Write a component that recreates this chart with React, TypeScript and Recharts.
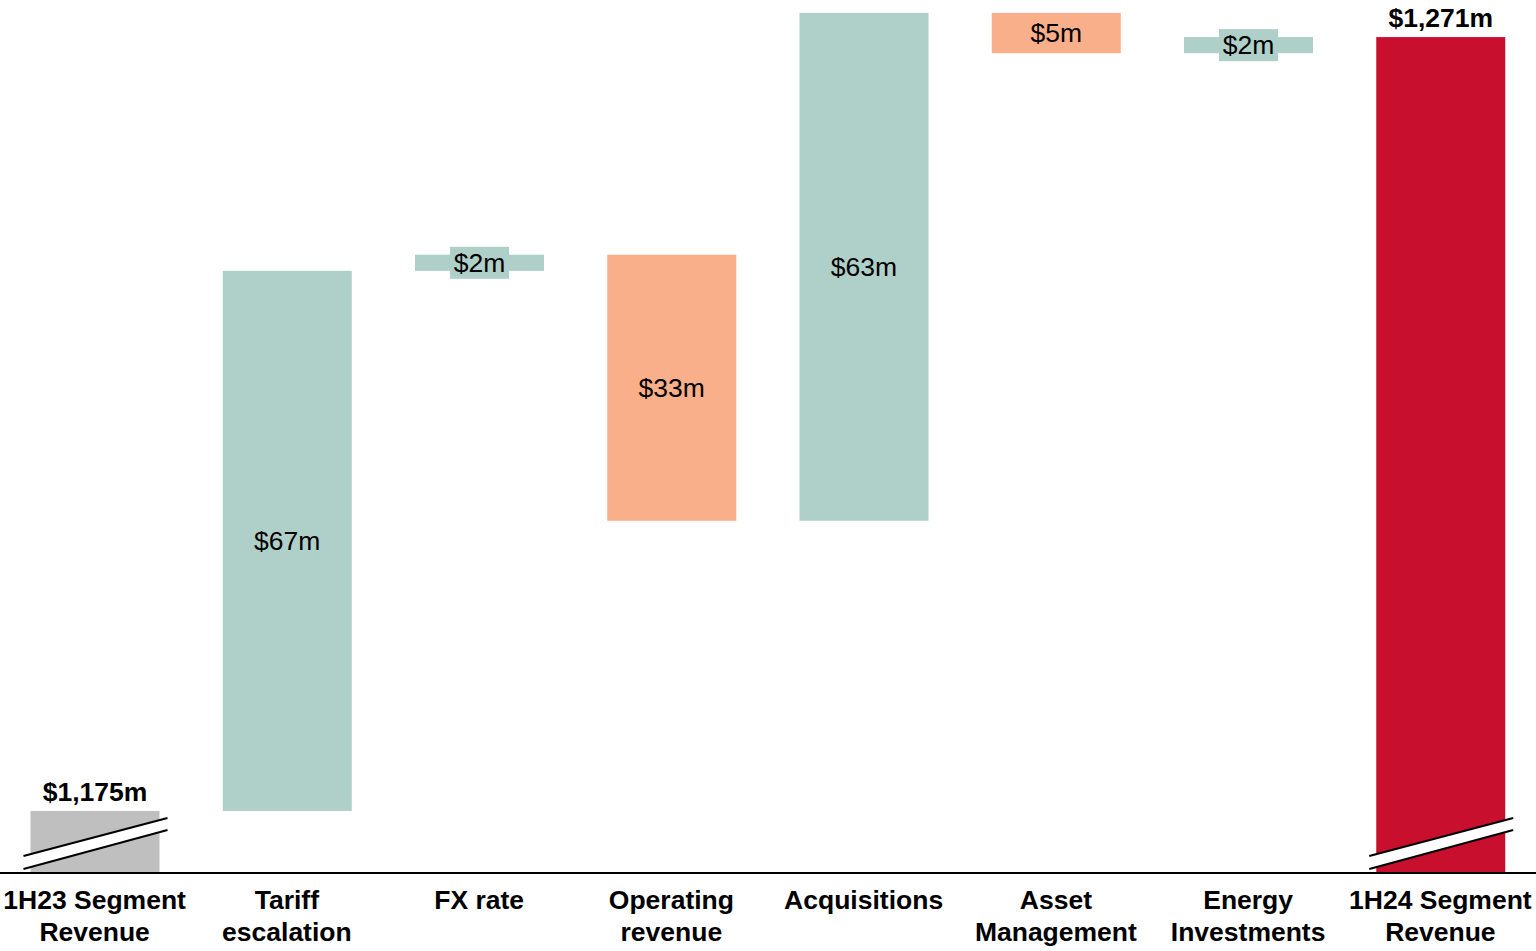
import React from 'react';
import { BarChart, Bar, XAxis, YAxis } from 'recharts';

const categories = [
  '1H23 Segment\nRevenue',
  'Tariff\nescalation',
  'FX rate',
  'Operating\nrevenue',
  'Acquisitions',
  'Asset\nManagement',
  'Energy\nInvestments',
  '1H24 Segment\nRevenue',
];
const startValue = 1175;
const changes = [67, 2, -33, 63, -5, 2];
const endValue = 1271;

const axisMin = 1167.3;
const axisMax = 1275.6;

const COLORS = { start: '#BFBFBF', up: '#AFCFC9', down: '#F9AF8A', end: '#C8102E' };
const FONT = '"Liberation Sans", Arial, sans-serif';
const FS = 26.5;

type Row = { name: string; range: [number, number]; kind: 'start' | 'up' | 'down' | 'end'; value: number };

const rows: Row[] = [];
rows.push({ name: categories[0], range: [axisMin, startValue], kind: 'start', value: startValue });
let running = startValue;
changes.forEach((c, i) => {
  const next = running + c;
  rows.push({
    name: categories[i + 1],
    range: [Math.min(running, next), Math.max(running, next)],
    kind: c >= 0 ? 'up' : 'down',
    value: c,
  });
  running = next;
});
rows.push({ name: categories[categories.length - 1], range: [axisMin, endValue], kind: 'end', value: endValue });

const BarShape = (props: any) => {
  const { x, y, width, height, index } = props;
  const row = rows[index];
  const top = Math.min(y, y + height);
  const h = Math.abs(height);
  const bottom = top + h;
  const cx = x + width / 2;
  const fill = COLORS[row.kind];
  const isTotal = row.kind === 'start' || row.kind === 'end';
  if (isTotal) {
    const lx = x - 7;
    const rx = x + width + 8;
    return (
      <g>
        <rect x={x} y={top} width={width} height={h} fill={fill} />
        <polygon
          points={`${lx},${bottom - 17} ${rx},${bottom - 55} ${rx},${bottom - 43} ${lx},${bottom - 4}`}
          fill="#fff"
        />
        <line x1={lx} y1={bottom - 17} x2={rx} y2={bottom - 55} stroke="#000" strokeWidth={2} />
        <line x1={lx} y1={bottom - 4} x2={rx} y2={bottom - 43} stroke="#000" strokeWidth={2} />
        <text
          x={cx}
          y={top - 19}
          textAnchor="middle"
          dominantBaseline="central"
          fontFamily={FONT}
          fontWeight="bold"
          fontSize={FS}
          fill="#000"
        >
          {`$${row.value.toLocaleString('en-US')}m`}
        </text>
      </g>
    );
  }
  const label = `$${Math.abs(row.value)}m`;
  const bw = label.length * 15 + 14;
  const cy = top + h / 2;
  return (
    <g>
      <rect x={x} y={top} width={width} height={h} fill={fill} />
      <rect x={cx - bw / 2} y={cy - 16} width={bw} height={32} fill={fill} />
      <text
        x={cx}
        y={cy}
        textAnchor="middle"
        dominantBaseline="central"
        fontFamily={FONT}
        fontSize={FS}
        fill="#000"
      >
        {label}
      </text>
    </g>
  );
};

const CategoryTick = (props: any) => {
  const { x, y, payload } = props;
  const lines = String(payload.value).split('\n');
  return (
    <g>
      {lines.map((line, i) => (
        <text
          key={i}
          x={x}
          y={y + 27 + i * 32}
          textAnchor="middle"
          dominantBaseline="central"
          fontFamily={FONT}
          fontWeight="bold"
          fontSize={FS}
          fill="#000"
        >
          {line}
        </text>
      ))}
    </g>
  );
};

export default function App() {
  return (
    <div style={{ position: 'absolute', left: 0, top: 0, width: 1536, height: 951, background: '#fff' }}>
      <BarChart
        width={1536}
        height={951}
        data={rows}
        margin={{ top: 0, right: -0.5, bottom: 0, left: -1.5 }}
        barSize={129}
      >
        <XAxis
          dataKey="name"
          interval={0}
          tickLine={false}
          tickSize={0}
          tickMargin={0}
          axisLine={{ stroke: '#000', strokeWidth: 2 }}
          height={78}
          tick={<CategoryTick />}
        />
        <YAxis hide domain={[axisMin, axisMax]} allowDataOverflow />
        <Bar dataKey="range" isAnimationActive={false} shape={<BarShape />} />
      </BarChart>
    </div>
  );
}
